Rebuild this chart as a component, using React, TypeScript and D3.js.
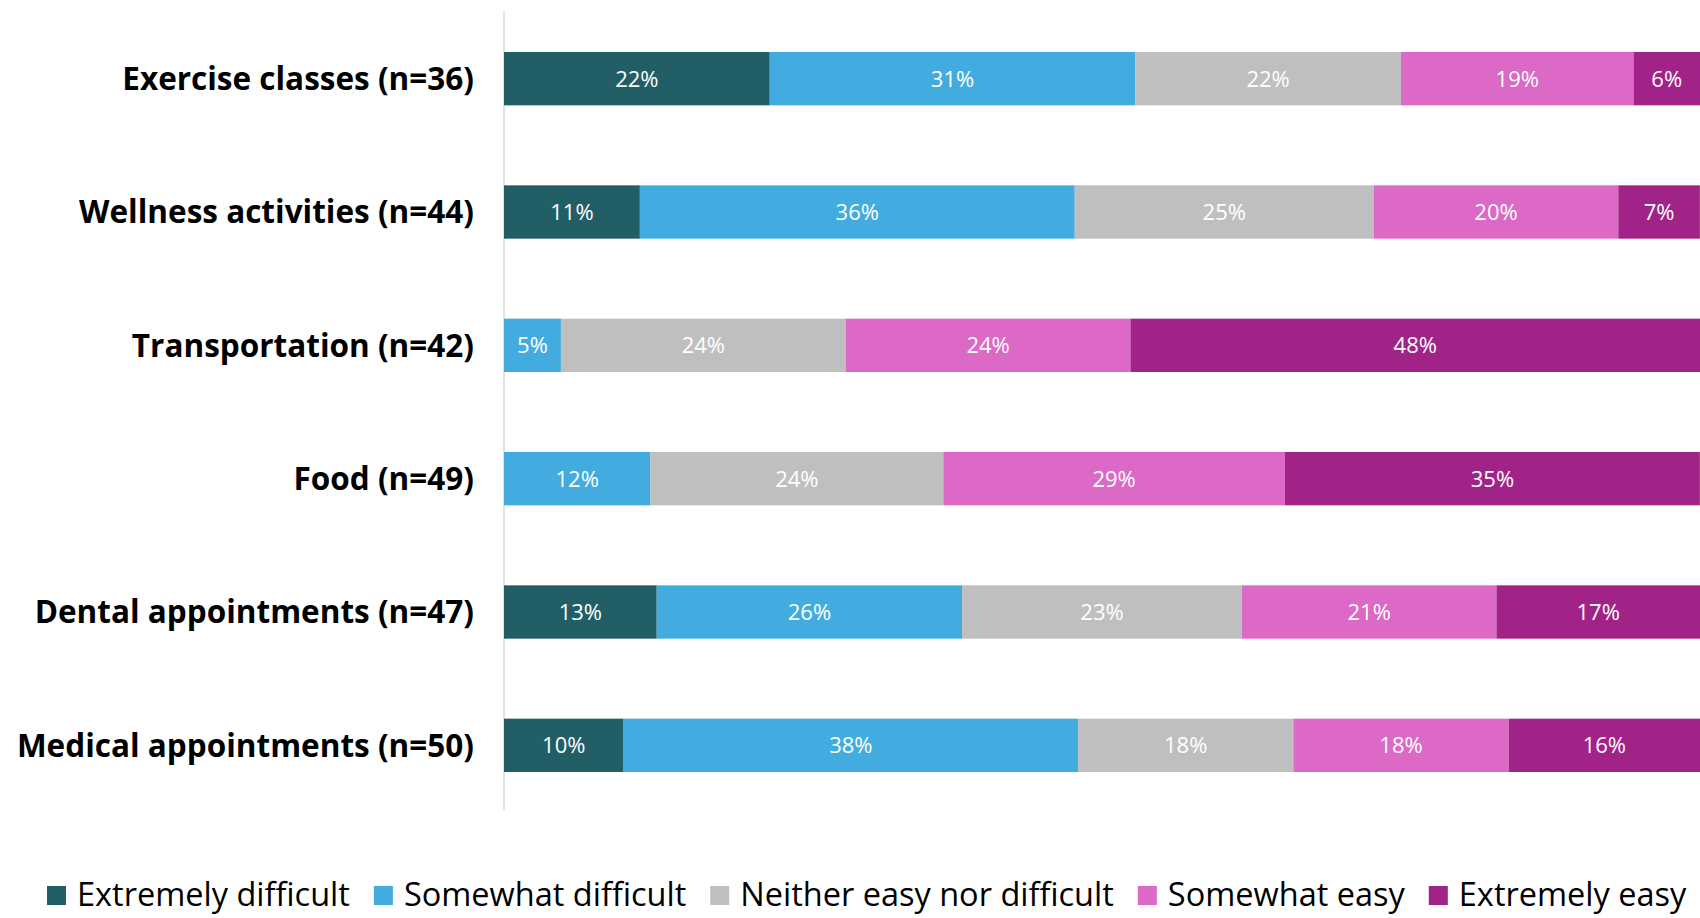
import React, { useEffect, useRef } from "react";
import * as d3 from "d3";

const categories = [
  "Exercise classes (n=36)",
  "Wellness activities (n=44)",
  "Transportation (n=42)",
  "Food (n=49)",
  "Dental appointments (n=47)",
  "Medical appointments (n=50)",
];
const seriesNames = [
  "Extremely difficult",
  "Somewhat difficult",
  "Neither easy nor difficult",
  "Somewhat easy",
  "Extremely easy",
];
const extremelyDifficult = [22.22, 11.36, 0, 0, 12.77, 10];
const somewhatDifficult = [30.56, 36.36, 4.76, 12.24, 25.53, 38];
const neither = [22.22, 25.0, 23.81, 24.49, 23.4, 18];
const somewhatEasy = [19.44, 20.45, 23.81, 28.57, 21.28, 18];
const extremelyEasy = [5.56, 6.82, 47.62, 34.69, 17.02, 16];
const colors = ["#215E66", "#42ACE1", "#BFBFBF", "#DB69C5", "#A12387"];

const W = 1700;
const H = 918;

export default function App() {
  const ref = useRef<SVGSVGElement>(null);
  useEffect(() => {
    const svg = d3.select(ref.current);
    svg.selectAll("*").remove();
    const values = [extremelyDifficult, somewhatDifficult, neither, somewhatEasy, extremelyEasy];
    const rows = categories.map((c, i) => {
      const r: any = { cat: c };
      seriesNames.forEach((s, j) => (r[s] = values[j][i]));
      return r;
    });
    const stack = d3.stack<any>().keys(seriesNames);
    const stacked = stack(rows);

    const x0 = 504;
    const x = d3.scaleLinear().domain([0, 100]).range([x0, x0 + 1196]);
    const y = d3.scaleBand().domain(categories).range([12, 812]).paddingInner(0.6).paddingOuter(0.3);

    svg
      .append("line")
      .attr("x1", x0)
      .attr("x2", x0)
      .attr("y1", 11)
      .attr("y2", 811)
      .attr("stroke", "#D9D9D9")
      .attr("stroke-width", 1.5);

    stacked.forEach((layer, j) => {
      const g = svg.append("g");
      layer.forEach((d: any, i: number) => {
        const w = x(d[1]) - x(d[0]);
        if (w <= 0) return;
        g.append("rect")
          .attr("x", x(d[0]))
          .attr("y", y(d.data.cat)!)
          .attr("width", w)
          .attr("height", y.bandwidth())
          .attr("fill", colors[j]);
        g.append("text")
          .attr("x", (x(d[0]) + x(d[1])) / 2)
          .attr("y", y(d.data.cat)! + y.bandwidth() / 2)
          .attr("dy", "0.36em")
          .attr("text-anchor", "middle")
          .attr("fill", "#FFFFFF")
          .attr("font-family", "'Open Sans', sans-serif")
          .attr("font-size", 22)
          .text(Math.round(values[j][i]) + "%");
      });
    });

    svg
      .append("g")
      .selectAll("text")
      .data(categories)
      .join("text")
      .attr("x", 474)
      .attr("y", (d) => y(d)! + y.bandwidth() / 2)
      .attr("dy", "0.36em")
      .attr("text-anchor", "end")
      .attr("fill", "#000")
      .attr("font-family", "'Open Sans', sans-serif")
      .attr("font-weight", 700)
      .attr("font-size", 31.5)
      .text((d) => d);

    // legend
    const lg = svg.append("g");
    let cx = 47;
    const ly = 895;
    seriesNames.forEach((s, j) => {
      lg.append("rect")
        .attr("x", cx)
        .attr("y", ly - 9)
        .attr("width", 19)
        .attr("height", 19)
        .attr("fill", colors[j]);
      const t = lg
        .append("text")
        .attr("x", cx + 30)
        .attr("y", ly)
        .attr("dy", "0.35em")
        .attr("fill", "#000")
        .attr("font-family", "'Open Sans', sans-serif")
        .attr("font-size", 32.5)
        .text(s);
      const tw = (t.node() as SVGTextElement).getComputedTextLength();
      cx = cx + 30 + tw + 24;
    });
  }, []);
  return (
    <svg ref={ref} width={W} height={H} style={{ display: "block", position: "absolute", left: 0, top: 0, background: "#fff" }} />
  );
}
